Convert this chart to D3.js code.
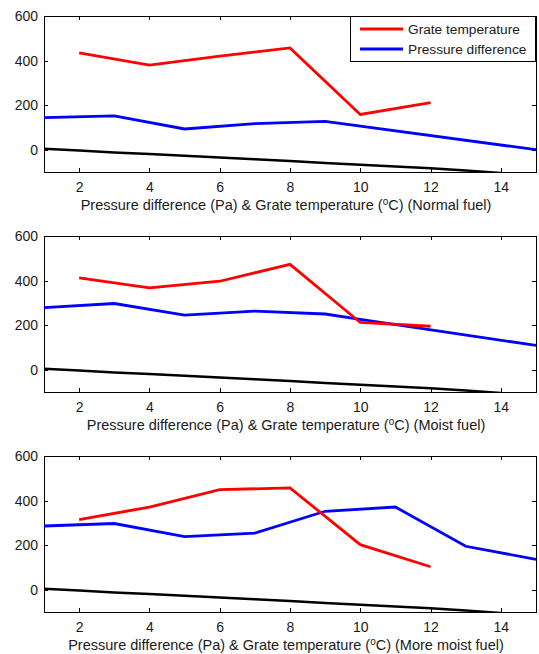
<!DOCTYPE html>
<html lang="en">
<head>
<meta charset="UTF-8">
<title>Pressure difference and grate temperature</title>
<script src="https://d3js.org/d3.v7.min.js"></script>
<style>
  body { margin: 0; background: #fff; }
  text { font-family: "Liberation Sans", Arial, sans-serif; fill: #1a1a1a; }
  .axis path, .axis line { stroke: #000; shape-rendering: crispEdges; }
</style>
</head>
<body>
<div id="chart"></div>
<script>
// values
var xTicks = [2, 4, 6, 8, 10, 12, 14];
var yTicks = [0, 200, 400, 600];
var fuelNames = ["(Normal fuel)", "(Moist fuel)", " (More moist fuel)"];
var seriesNames = ["Grate temperature", "Pressure difference"];

var grateX = [2, 4, 6, 8, 10, 12];
var grateNormal = [435, 380, 420, 457, 158, 211];
var grateMoist = [412, 367, 397, 473, 212, 195];
var grateMoreMoist = [315, 371, 449, 457, 202, 103];

var pressXNormal = [1, 3, 5, 7, 9, 15];
var pressNormal = [144, 152, 93, 117, 127, 0];
var pressXMoist = [1, 3, 5, 7, 9, 10, 15];
var pressMoist = [279, 297, 245, 263, 250, 226, 109];
var pressXMoreMoist = [1, 3, 5, 7, 9, 11, 13, 15];
var pressMoreMoist = [286, 297, 238, 254, 352, 371, 195, 136];

var baseX = [1, 2, 3, 4, 5, 6, 7, 8, 9, 10, 11, 12, 13, 14];
var baseY = [4, -4, -12, -19, -27, -35, -43, -51, -60, -67, -75, -83, -93, -104];

var panels = [
  {grate: grateNormal, px: pressXNormal, py: pressNormal, fuel: fuelNames[0]},
  {grate: grateMoist, px: pressXMoist, py: pressMoist, fuel: fuelNames[1]},
  {grate: grateMoreMoist, px: pressXMoreMoist, py: pressMoreMoist, fuel: fuelNames[2]}
];

var W = 539, H = 654;
var left = 44, right = 536, top0 = 16, step = 220, plotH = 156;

var svg = d3.select("#chart").append("svg")
    .attr("width", W)
    .attr("height", H);

var x = d3.scaleLinear().domain([1, 15]).range([left, right]);

svg.append("clipPath").attr("id", "clip")
  .append("rect")
    .attr("x", left).attr("y", 0)
    .attr("width", right - left).attr("height", plotH);

panels.forEach(function(p, i) {
  var g = svg.append("g").attr("transform", "translate(0," + (top0 + i * step) + ")");
  var y = d3.scaleLinear().domain([-100, 600]).range([plotH, 0]);

  // MATLAB style box with inward ticks on all sides
  g.append("g").attr("class", "axis")
      .attr("transform", "translate(0," + plotH + ")")
      .call(d3.axisBottom(x).tickValues(xTicks).tickSizeInner(-4).tickSizeOuter(0).tickPadding(10))
      .style("font", "14px 'Liberation Sans'");
  g.append("g").attr("class", "axis")
      .call(d3.axisTop(x).tickValues(xTicks).tickSizeInner(-4).tickSizeOuter(0).tickFormat(""));
  g.append("g").attr("class", "axis")
      .attr("transform", "translate(" + left + ",0)")
      .call(d3.axisLeft(y).tickValues(yTicks).tickSizeInner(-4).tickSizeOuter(0).tickPadding(6))
      .style("font", "14px 'Liberation Sans'");
  g.append("g").attr("class", "axis")
      .attr("transform", "translate(" + right + ",0)")
      .call(d3.axisRight(y).tickValues(yTicks).tickSizeInner(-4).tickSizeOuter(0).tickFormat(""));
  g.selectAll(".axis text").attr("fill", "#1a1a1a");

  var line = d3.line().x(function(d) { return x(d[0]); }).y(function(d) { return y(d[1]); });
  var plot = g.append("g").attr("clip-path", "url(#clip)");

  plot.append("path")
      .datum(d3.zip(baseX, baseY))
      .attr("fill", "none").attr("stroke", "#000").attr("stroke-width", 2.5)
      .attr("d", line);
  plot.append("path")
      .datum(d3.zip(p.px, p.py))
      .attr("fill", "none").attr("stroke", "#0000ff").attr("stroke-width", 2.8)
      .attr("d", line);
  plot.append("path")
      .datum(d3.zip(grateX, p.grate))
      .attr("fill", "none").attr("stroke", "#ff0000").attr("stroke-width", 2.8)
      .attr("d", line);

  // x label with superscript o
  var lab = g.append("text")
      .attr("x", 286).attr("y", plotH + 38)
      .attr("text-anchor", "middle")
      .style("font-size", "14.5px");
  lab.append("tspan").text("Pressure difference (Pa) & Grate temperature (");
  lab.append("tspan").attr("dy", -5).style("font-size", "10px").text("o");
  lab.append("tspan").attr("dy", 5).text("C) " + p.fuel);

  if (i === 0) {
    var lg = g.append("g").attr("transform", "translate(350,0)");
    lg.append("rect")
        .attr("x", 0.5).attr("y", 0.5).attr("width", 185).attr("height", 45)
        .attr("fill", "#fff").attr("stroke", "#000");
    var colors = ["#ff0000", "#0000ff"];
    seriesNames.forEach(function(name, k) {
      lg.append("line")
          .attr("x1", 10).attr("x2", 53)
          .attr("y1", 13 + k * 20).attr("y2", 13 + k * 20)
          .attr("stroke", colors[k]).attr("stroke-width", 2.8);
      lg.append("text")
          .attr("x", 58).attr("y", 13 + k * 20).attr("dy", "0.35em")
          .style("font-size", "13.7px")
          .text(name);
    });
  }
});
</script>
</body>
</html>
